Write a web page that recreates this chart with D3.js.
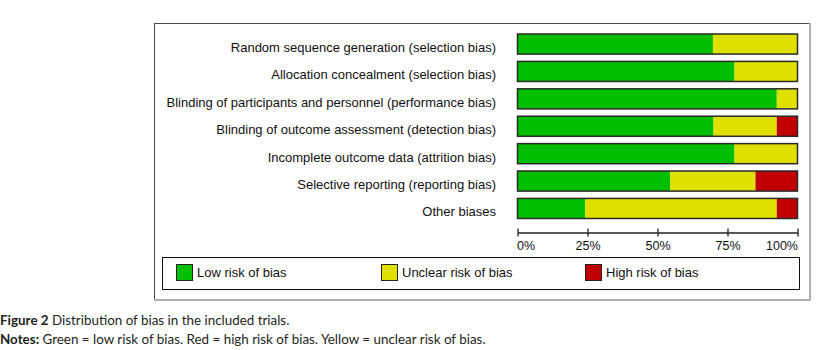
<!DOCTYPE html>
<html>
<head>
<meta charset="utf-8">
<script src="https://cdn.jsdelivr.net/npm/d3@7"></script>
<style>
  html, body { margin: 0; padding: 0; background: #fff; }
  svg { display: block; }
</style>
</head>
<body>
<svg id="chart" width="818" height="350"></svg>
<script>
const categories = [
  "Random sequence generation (selection bias)",
  "Allocation concealment (selection bias)",
  "Blinding of participants and personnel (performance bias)",
  "Blinding of outcome assessment (detection bias)",
  "Incomplete outcome data (attrition bias)",
  "Selective reporting (reporting bias)",
  "Other biases"
];
const lowRisk     = [69.8, 77.5, 92.6, 70.0, 77.5, 54.5, 24.1];
const unclearRisk = [30.2, 22.5,  7.4, 22.6, 22.5, 30.5, 68.5];
const highRisk    = [ 0.0,  0.0,  0.0,  7.4,  0.0, 15.0,  7.4];
const tickValues  = [0, 25, 50, 75, 100];
const legendLabels = ["Low risk of bias", "Unclear risk of bias", "High risk of bias"];
const seriesKeys = ["low", "unclear", "high"];
const seriesColors = ["#00bf00", "#e0e000", "#c00000"];
const captionTitle = "Figure 2";
const captionText = " Distribution of bias in the included trials.";
const notesTitle = "Notes:";
const notesText = " Green = low risk of bias. Red = high risk of bias. Yellow = unclear risk of bias.";

const svg = d3.select("#chart");
const labelFont = "'Liberation Sans', Arial, sans-serif";
const captionFont = "Lato, 'Open Sans', sans-serif";

// outer frame
svg.append("rect").attr("x", 154.5).attr("y", 23.5).attr("width", 655).attr("height", 276)
  .attr("fill", "none").attr("stroke", "#4a4a4a").attr("stroke-width", 1);
svg.append("line").attr("x1", 810).attr("x2", 810).attr("y1", 23).attr("y2", 300)
  .attr("stroke", "#b0b0b0").attr("stroke-width", 2);
svg.append("line").attr("x1", 154).attr("x2", 811).attr("y1", 300).attr("y2", 300)
  .attr("stroke", "#b0b0b0").attr("stroke-width", 2);

const data = categories.map((c, i) => ({ cat: c, low: lowRisk[i], unclear: unclearRisk[i], high: highRisk[i] }));

const x = d3.scaleLinear().domain([0, 100]).range([517.5, 797.5]);
const y = d3.scaleBand().domain(categories).range([34, 218.5]).paddingInner(0.267).paddingOuter(0);
const color = d3.scaleOrdinal().domain(seriesKeys).range(seriesColors);

const stacked = d3.stack().keys(seriesKeys)(data);

const g = svg.append("g");
g.selectAll("g.series").data(stacked).join("g").attr("class", "series")
  .attr("fill", d => color(d.key))
  .selectAll("rect").data(d => d).join("rect")
  .attr("x", d => x(d[0]))
  .attr("y", d => y(d.data.cat))
  .attr("width", d => Math.max(0, x(d[1]) - x(d[0])))
  .attr("height", y.bandwidth());

// bar outlines
g.selectAll("rect.outline").data(data).join("rect").attr("class", "outline")
  .attr("x", x(0)).attr("y", d => y(d.cat))
  .attr("width", x(100) - x(0)).attr("height", y.bandwidth())
  .attr("fill", "none").attr("stroke", "#2a2a2a").attr("stroke-width", 1.5);

// category labels
g.selectAll("text.cat").data(categories).join("text").attr("class", "cat")
  .attr("x", 496).attr("y", d => y(d) + y.bandwidth() / 2 + 8)
  .attr("text-anchor", "end")
  .attr("font-family", labelFont).attr("font-size", 13).attr("fill", "#111")
  .text(d => d);

// axis
const axis = d3.axisBottom(x).tickValues(tickValues).tickFormat(d => d + "%").tickSizeOuter(0).tickSizeInner(4);
const ax = svg.append("g").attr("transform", "translate(0,232.5)").call(axis);
ax.select(".domain").attr("stroke", "#222").attr("stroke-width", 1.3);
ax.selectAll(".tick line").attr("y1", -4).attr("y2", 4).attr("stroke", "#222").attr("stroke-width", 1.3);
ax.selectAll(".tick text").attr("font-family", labelFont).attr("font-size", 12.5).attr("fill", "#111")
  .attr("y", 0).attr("dy", null).attr("transform", "translate(0,17.5)")
  .attr("text-anchor", (d, i) => i === 0 ? "start" : (i === tickValues.length - 1 ? "end" : "middle"))
  .attr("dx", (d, i) => i === 0 ? -1 : 0);

// legend
svg.append("rect").attr("x", 162.5).attr("y", 257.5).attr("width", 637).attr("height", 32)
  .attr("fill", "none").attr("stroke", "#111").attr("stroke-width", 1);
const legendX = [176, 381, 585];
const lg = svg.selectAll("g.legend").data(legendLabels).join("g").attr("class", "legend")
  .attr("transform", (d, i) => `translate(${legendX[i]},264)`);
lg.append("rect").attr("x", 0.5).attr("y", 0.5).attr("width", 16).attr("height", 16)
  .attr("fill", (d, i) => seriesColors[i]).attr("stroke", "#222").attr("stroke-width", 1);
lg.append("text").attr("x", 21).attr("y", 13)
  .attr("font-family", labelFont).attr("font-size", 13).attr("fill", "#111")
  .text(d => d);

// caption
const cap = svg.append("text").attr("x", 0).attr("y", 325)
  .attr("font-family", captionFont).attr("font-size", 13.4).attr("fill", "#231f20");
cap.append("tspan").attr("font-weight", "bold").text(captionTitle);
cap.append("tspan").text(captionText);
const notes = svg.append("text").attr("x", 0).attr("y", 344)
  .attr("font-family", captionFont).attr("font-size", 13.4).attr("fill", "#231f20");
notes.append("tspan").attr("font-weight", "bold").text(notesTitle);
notes.append("tspan").text(notesText);
</script>
</body>
</html>
